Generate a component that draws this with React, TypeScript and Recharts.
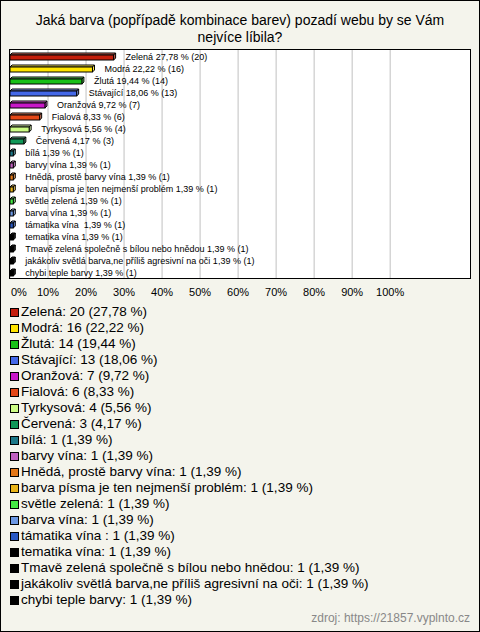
import React from 'react';
import { BarChart, Bar, XAxis, YAxis, CartesianGrid, Cell, LabelList } from 'recharts';

// odpovědi, počty a procenta (tak jak jsou v grafu)
const names = [
  'Zelená',
  'Modrá',
  'Žlutá',
  'Stávající',
  'Oranžová',
  'Fialová',
  'Tyrkysová',
  'Červená',
  'bílá',
  'barvy vína',
  'Hnědá, prostě barvy vína',
  'barva písma je ten nejmenší problém',
  'světle zelená',
  'barva vína',
  'támatika vína ',
  'tematika vína',
  'Tmavě zelená společně s bílou nebo hnědou',
  'jakákoliv světlá barva,ne příliš agresivní na oči',
  'chybi teple barvy',
];
const counts = [20, 16, 14, 13, 7, 6, 4, 3, 1, 1, 1, 1, 1, 1, 1, 1, 1, 1, 1];
const percents = [27.78, 22.22, 19.44, 18.06, 9.72, 8.33, 5.56, 4.17, 1.39, 1.39, 1.39, 1.39, 1.39, 1.39, 1.39, 1.39, 1.39, 1.39, 1.39];
const xTicks = [0, 10, 20, 30, 40, 50, 60, 70, 80, 90, 100];

// barvy sloupců
const palette = [
  '#c41e0c', '#ffe400', '#18c018', '#4468e8', '#c818c8', '#e44818', '#ccfc84', '#109858',
  '#1c7888', '#c060c0', '#e47818', '#e8b418', '#44e844', '#6c98e4', '#2858c4',
  '#000000', '#000000', '#000000', '#000000',
];

const FONT = '"Liberation Sans", Arial, sans-serif';
const fmt = (v: number) => v.toFixed(2).replace('.', ',');

const data = names.map((name, i) => ({
  name,
  value: percents[i],
  label: `${name} ${fmt(percents[i])} % (${counts[i]})`,
}));

function lighten(hex: string, amt: number) {
  const n = parseInt(hex.slice(1), 16);
  const r = (n >> 16) & 255, g = (n >> 8) & 255, b = n & 255;
  const f = (c: number) => Math.round(c + (255 - c) * amt);
  return `rgb(${f(r)},${f(g)},${f(b)})`;
}

// 3D sloupec: přední stěna + horní a boční hrana
const Bar3D = (props: any) => {
  const { x, y, width, height, fill } = props;
  if (!width || width <= 0) return null;
  const d = 2;
  const w = Math.max(width - d, 1);
  const top = lighten(fill, fill === '#000000' ? 0.15 : 0.35);
  return (
    <g stroke="#000" strokeWidth={1}>
      <polygon points={`${x},${y + d} ${x + d},${y} ${x + w + d},${y} ${x + w},${y + d}`} fill={top} />
      <polygon points={`${x + w},${y + d} ${x + w + d},${y} ${x + w + d},${y + height - d} ${x + w},${y + height}`} fill={top} />
      <rect x={x} y={y + d} width={w} height={height - d} fill={fill} />
    </g>
  );
};

const renderLabel = (props: any) => {
  const { x, y, width, height, value } = props;
  return (
    <text x={x + width + 10} y={y + height / 2 + 0.5} dominantBaseline="central" fontSize={9} fontFamily={FONT} fill="#000" style={{ whiteSpace: 'pre' }}>
      {value}
    </text>
  );
};

const renderTick = (props: any) => {
  const { x, y, payload } = props;
  const first = payload.value === 0;
  return (
    <text x={first ? x + 1 : x} y={y} dy="0.71em" textAnchor={first ? 'start' : 'middle'} fontSize={11} fontFamily={FONT} fill="#000">
      {`${payload.value}%`}
    </text>
  );
};

// svislé čáry mřížky – souřadnice z měřítka osy X
const gridX = (args: any) => {
  try {
    const s = args?.xAxis?.scale;
    if (!s) return [];
    const f = typeof s === 'function' ? s : typeof s.map === 'function' ? (v: number) => s.map(v) : null;
    if (!f) return [];
    return xTicks.map((t) => f(t)).filter((v) => Number.isFinite(v));
  } catch (e) {
    return [];
  }
};

export default function App() {
  return (
    <div style={{ position: 'absolute', left: 0, top: 0, width: 480, height: 632, background: '#f4f4ec', fontFamily: FONT, overflow: 'hidden' }}>
      <div style={{ position: 'absolute', left: 0, top: 12, width: 480, textAlign: 'center', fontSize: 14, lineHeight: '16.5px', color: '#000' }}>
        Jaká barva (popřípadě kombinace barev) pozadí webu by se Vám
        <br />
        nejvíce líbila?
      </div>

      {/* bílé pozadí grafu */}
      <div style={{ position: 'absolute', left: 10, top: 50, width: 460, height: 228, background: '#ffffff' }} />

      <div style={{ position: 'absolute', left: 0, top: 0 }}>
        <BarChart width={480} height={300} data={data} layout="vertical" margin={{ top: 50, right: 10, left: 10, bottom: 0 }} barSize={7}>
          <CartesianGrid horizontal={false} vertical stroke="#c0c0c0" verticalCoordinatesGenerator={gridX} />
          <XAxis type="number" domain={[0, 121]} ticks={xTicks} axisLine={false} tickLine={false} tickMargin={4} height={22} tick={renderTick} />
          <YAxis type="category" dataKey="name" hide width={0} />
          <Bar dataKey="value" shape={Bar3D} isAnimationActive={false}>
            {data.map((_, i) => (
              <Cell key={i} fill={palette[i]} />
            ))}
            <LabelList dataKey="label" content={renderLabel} />
          </Bar>
        </BarChart>
      </div>

      <div style={{ position: 'absolute', left: 9, top: 49, width: 462, height: 230, boxSizing: 'border-box', border: '1.5px solid #000' }} />

      <div style={{ position: 'absolute', left: 10, top: 304, fontSize: 13.5, lineHeight: '16px', color: '#000' }}>
        {names.map((name, i) => (
          <div key={i} style={{ display: 'flex', alignItems: 'center', whiteSpace: 'pre' }}>
            <span style={{ display: 'inline-block', width: 7, height: 7, border: '1px solid #000', background: palette[i], marginRight: 2 }} />
            <span>{`${name}: ${counts[i]} (${fmt(percents[i])} %)`}</span>
          </div>
        ))}
      </div>

      <div style={{ position: 'absolute', right: 10, top: 611, fontSize: 12, color: '#888' }}>
        zdroj: https://21857.vyplnto.cz
      </div>

      <div style={{ position: 'absolute', left: 0, top: 0, width: 480, height: 632, boxSizing: 'border-box', border: '1px solid #000', pointerEvents: 'none' }} />
    </div>
  );
}
